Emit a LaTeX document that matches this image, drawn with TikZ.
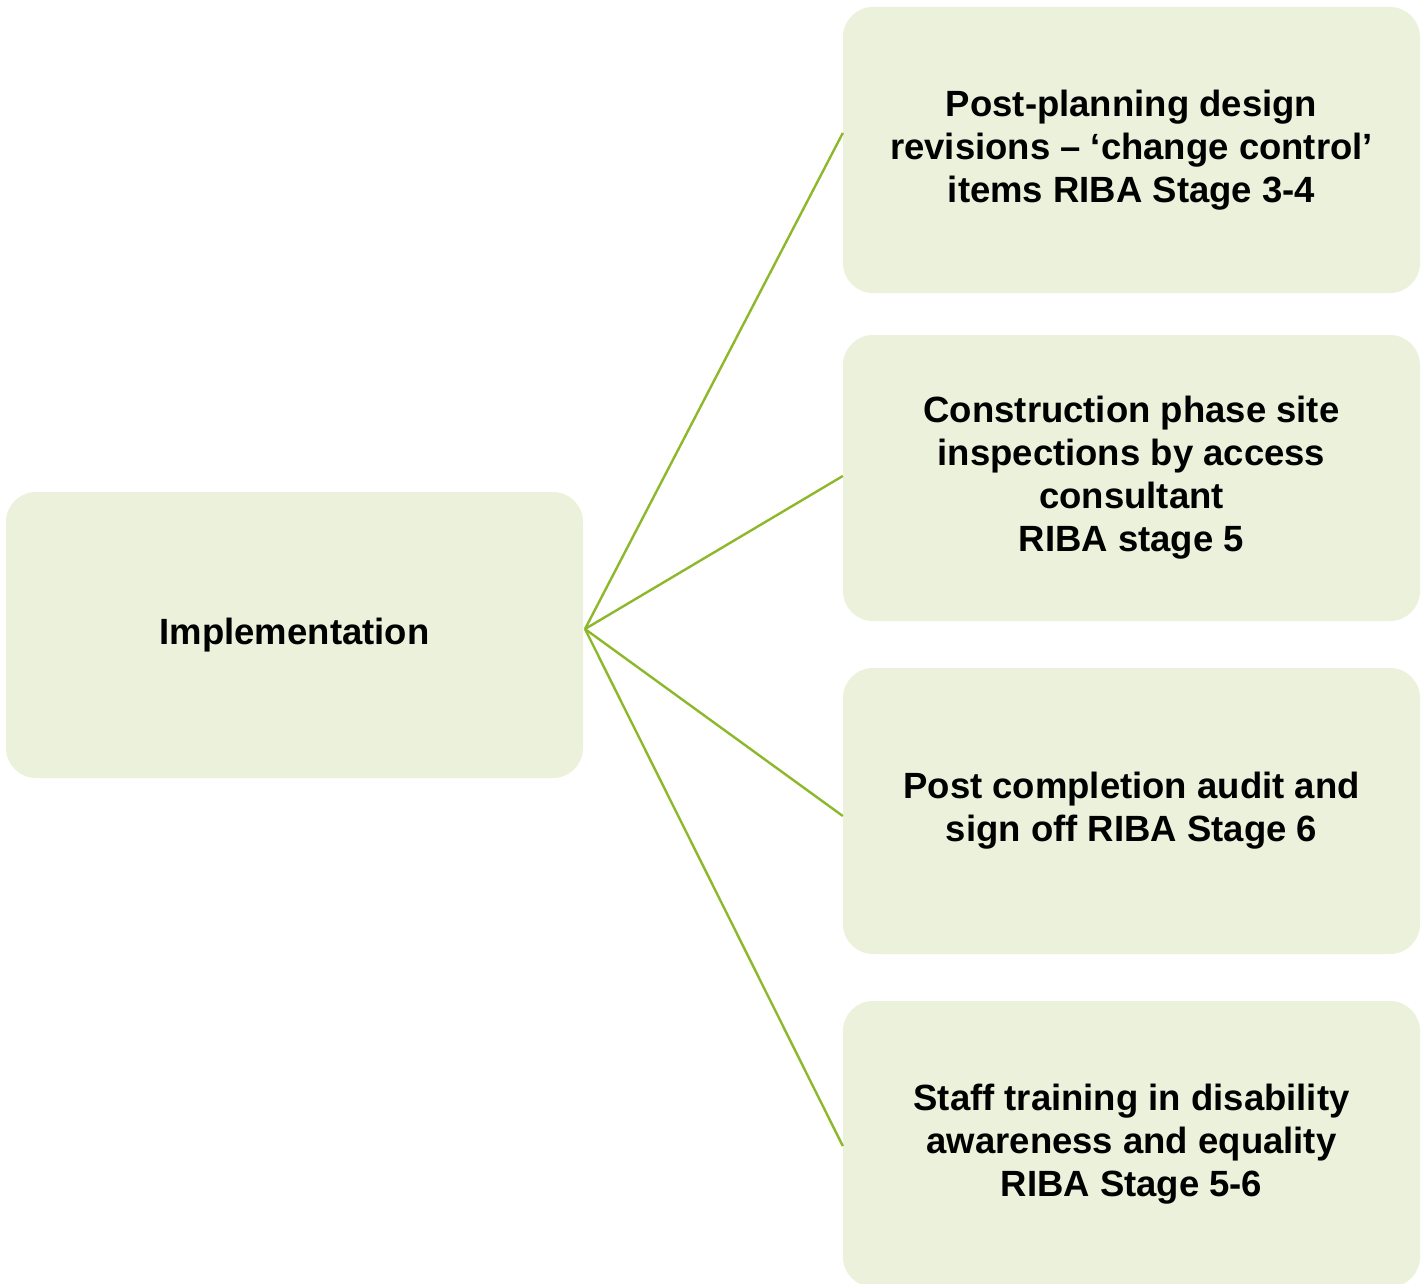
\documentclass[tikz,border=0pt]{standalone}
\usepackage{fontspec}
\setmainfont{Liberation Sans}
\usetikzlibrary{calc}
\definecolor{boxfill}{HTML}{EBF1DA}
\definecolor{linkgreen}{HTML}{8DB82B}
\begin{document}
\begin{tikzpicture}[x=1pt,y=-1pt,
  box/.style={fill=boxfill, draw=none, rounded corners=30pt, minimum width=577pt, minimum height=286pt,
    align=center, inner sep=0pt, font=\fontsize{36.5}{43}\selectfont\bfseries},
  link/.style={draw=linkgreen, line width=2.4pt}]
\useasboundingbox (0,0) rectangle (1427,1284);
\node[box] (impl) at (294.5,635) {Implementation};
\node[box] (p1) at (1131.5,150) {Post-planning design\\revisions -- ‘change control’\\items RIBA Stage 3-4};
\node[box] (p2) at (1131.5,478) {Construction phase site\\inspections by access\\consultant\\RIBA stage 5};
\node[box] (p3) at (1131.5,811) {Post completion audit and\\sign off RIBA Stage 6};
\node[box] (p4) at (1131.5,1144) {Staff training in disability\\awareness and equality\\RIBA Stage 5-6};
\coordinate (hub) at (585,629);
\draw[link] (hub) -- ($(p1.west)+(0,-17)$);
\draw[link] (hub) -- ($(p2.west)+(0,-2)$);
\draw[link] (hub) -- ($(p3.west)+(0,5)$);
\draw[link] (hub) -- ($(p4.west)+(0,2)$);
\end{tikzpicture}
\end{document}
